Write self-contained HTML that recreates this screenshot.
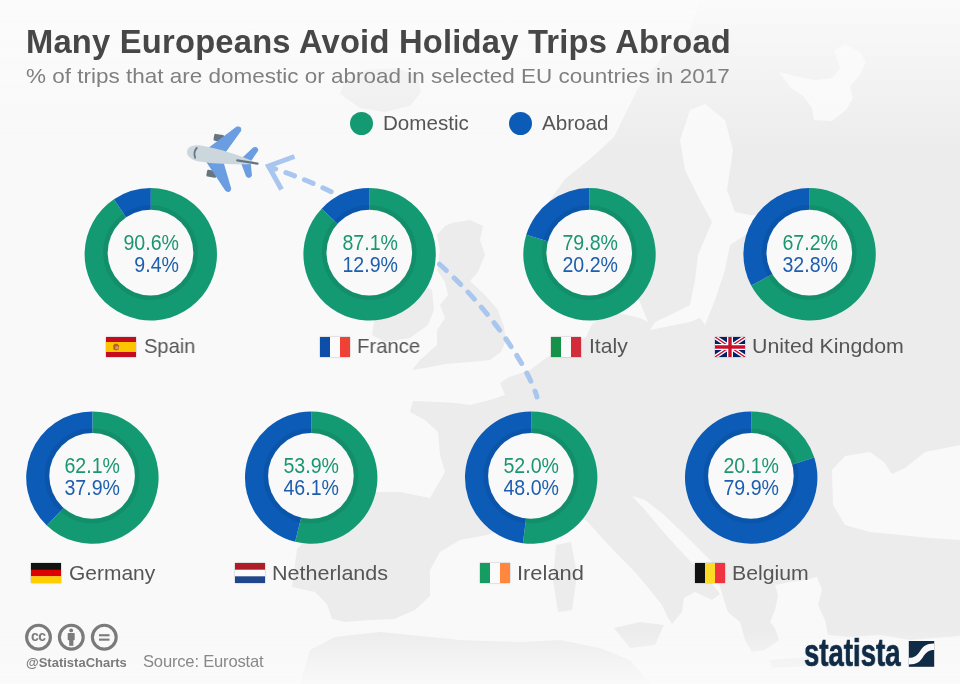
<!DOCTYPE html>
<html><head><meta charset="utf-8"><style>
*{margin:0;padding:0;box-sizing:border-box}
html,body{width:960px;height:684px;overflow:hidden;background:#f9f9f9}
body{position:relative;font-family:"Liberation Sans",sans-serif}
.abs{position:absolute}
body>*{will-change:transform}
#title{position:absolute;left:25.7px;top:22px;font-weight:bold;font-size:32.7px;color:#474747;white-space:nowrap;line-height:40px;letter-spacing:0.23px}
#sub{position:absolute;left:26px;top:62.5px;font-size:21px;color:#808080;white-space:nowrap;line-height:26px;transform-origin:0 0;transform:scaleX(1.0707)}
.leg{position:absolute;top:110.8px;height:23px;font-size:20.6px;color:#555;line-height:23px;white-space:nowrap}
.leg i{display:inline-block;width:23px;height:23px;border-radius:50%;vertical-align:top;margin-right:10px;margin-top:0.7px}
.val{position:absolute;width:100px;height:60px;text-align:center;font-size:21.3px;line-height:22px;padding-top:8px}
.val span{display:inline-block;text-align:right;transform:scaleX(0.92)}
.val b{display:block;font-weight:normal}
.val .g{color:#1c9571}
.val .b{color:#1d5eae}
.fl{position:absolute;width:30px;height:20px;box-shadow:0 0 1.5px rgba(0,0,0,.35)}
.fl svg{display:block}
.ln{position:absolute;white-space:nowrap;font-size:20.8px;line-height:20px;color:#555;transform-origin:0 0}
#handle{position:absolute;left:25.5px;top:654.5px;font-weight:bold;font-size:13px;color:#7b7b7b;line-height:16px;white-space:nowrap}
#src{position:absolute;left:143px;top:652px;font-size:16.6px;letter-spacing:-0.2px;color:#888;line-height:20px;white-space:nowrap}
#stat{position:absolute;left:803.5px;top:630.2px;font-weight:bold;font-size:38.3px;color:#0f2b46;line-height:46px;white-space:nowrap;transform-origin:0 0;transform:scaleX(0.72);letter-spacing:0px;-webkit-text-stroke:0.7px #0f2b46}
</style></head><body>
<svg class="abs" style="left:0;top:0" width="960" height="684" viewBox="0 0 960 684">
<g id="map"><path d="M700 0 L690 30 L664 55 L637 90 L614 137 L590 159 L565 179 L550 200 L545 230 L548 262 L560 290 L585 306 L610 300 L628 290 L640 302 L648 322 L640 318 L615 312 L605 316 L592 324 L586 337 L560 350 L546 358 L530 370 L509 377 L500 383 L505 395 L490 400 L470 405 L455 403 L440 402 L413 401 L410 412 L425 420 L438 432 L440 455 L445 472 L430 498 L400 492 L377 492 L350 505 L320 525 L297 549 L292 587 L315 592 L327 604 L332 619 L345 622 L370 620 L394 619 L415 610 L430 596 L430 570 L440 552 L460 540 L487 535 L505 528 L525 530 L545 520 L560 508 L572 510 L588 522 L602 538 L618 555 L635 572 L650 590 L662 605 L668 618 L672 624 L682 612 L684 598 L695 592 L712 600 L720 594 L708 578 L692 563 L676 546 L660 528 L645 510 L632 496 L645 500 L663 514 L683 533 L700 550 L711 561 L718 580 L724 600 L728 612 L740 622 L745 640 L752 652 L765 650 L779 640 L775 628 L770 622 L775 610 L778 595 L775 585 L790 582 L805 580 L817 577 L822 590 L818 605 L825 620 L828 635 L850 637 L880 635 L910 640 L960 636 L960 0 Z" fill="#ececec" />
<path d="M832 470 L845 456 L870 452 L884 462 L892 474 L905 468 L925 452 L960 445 L960 540 L930 538 L900 535 L870 532 L845 525 L833 505 Z" fill="#f9f9f9" />
<path d="M650 330 L660 328 L690 322 L700 318 L705 325 L715 300 L725 270 L730 245 L750 232 L790 228 L792 218 L750 215 L735 212 L727 190 L733 150 L725 120 L705 104 L690 110 L680 140 L685 170 L700 200 L712 222 L698 255 L695 280 L690 305 L670 315 L655 322 Z" fill="#f9f9f9" />
<path d="M779 72 L795 76 L815 80 L832 78 L840 68 L834 50 L845 44 L860 52 L866 62 L860 75 L850 86 L853 98 L846 110 L832 121 L814 120 L812 108 L804 97 L790 87 Z" fill="#f9f9f9" />
<path d="M452 223 L470 220 L483 226 L480 240 L485 255 L478 272 L470 281 L485 295 L498 310 L504 327 L506 340 L501 352 L490 360 L470 362 L445 364 L425 368 L412 370 L420 360 L437 345 L437 330 L445 318 L440 305 L448 295 L445 282 L437 270 L440 250 L437 235 L445 226 Z" fill="#ececec" />
<path d="M392 284 L415 280 L432 290 L434 310 L428 325 L410 338 L385 342 L372 335 L375 315 L382 298 Z" fill="#ececec" />
<path d="M345 80 L365 70 L395 68 L418 75 L421 92 L410 106 L385 112 L360 108 L340 94 Z" fill="#ececec" />
<path d="M561 512 L569 510 L572 530 L564 536 Z" fill="#ececec" />
<path d="M556 545 L571 542 L577 575 L572 610 L558 612 L553 580 Z" fill="#ececec" />
<path d="M614 628 L640 622 L664 625 L655 645 L630 648 Z" fill="#ececec" />
<path d="M770 660 L810 657 L808 666 L772 668 Z" fill="#ececec" />
<path d="M300 684 L310 650 L335 637 L380 632 L420 636 L460 640 L520 642 L560 640 L600 648 L630 660 L650 684 Z" fill="#ececec" /></g><defs><linearGradient id="topfade" x1="0" y1="0" x2="0" y2="1"><stop offset="0" stop-color="#fbfbfb" stop-opacity="0.95"/><stop offset="1" stop-color="#fbfbfb" stop-opacity="0"/></linearGradient>
<linearGradient id="botfade" x1="0" y1="1" x2="0" y2="0"><stop offset="0" stop-color="#fafafa" stop-opacity="0.9"/><stop offset="1" stop-color="#fafafa" stop-opacity="0"/></linearGradient></defs>
<rect x="0" y="0" width="960" height="150" fill="url(#topfade)"/>
<rect x="0" y="630" width="960" height="54" fill="url(#botfade)"/>
<path d="M294.5 156.5 L268.5 166 L281.5 189.5" stroke="#a9c6ee" stroke-width="5" fill="none" stroke-linejoin="miter"/>
<path d="M269 166.8 C449.8 225.2 528.1 364.4 537 397" stroke="#a9c6ee" stroke-width="5" fill="none" stroke-linecap="round" stroke-dasharray="9.3 10.7" stroke-dashoffset="2.35"/>
<path d="M150.8 254.3L150.80 188.10A66.2 66.2 0 1 1 113.93 199.31Z" fill="#149a73"/>
<path d="M150.8 254.3L113.93 199.31A66.2 66.2 0 0 1 150.80 188.10Z" fill="#0b5bb7"/>
<circle cx="150.5" cy="252.60000000000002" r="45.099999999999994" stroke="#000" stroke-opacity="0.075" stroke-width="4.6" fill="none"/>
<circle cx="150.5" cy="252.60000000000002" r="42.8" fill="#f9f9f9"/>
<path d="M369.6 254.3L369.60 188.10A66.2 66.2 0 1 1 321.63 208.68Z" fill="#149a73"/>
<path d="M369.6 254.3L321.63 208.68A66.2 66.2 0 0 1 369.60 188.10Z" fill="#0b5bb7"/>
<circle cx="369.3" cy="252.60000000000002" r="45.099999999999994" stroke="#000" stroke-opacity="0.075" stroke-width="4.6" fill="none"/>
<circle cx="369.3" cy="252.60000000000002" r="42.8" fill="#f9f9f9"/>
<path d="M589.5 254.3L589.50 188.10A66.2 66.2 0 1 1 526.29 234.64Z" fill="#149a73"/>
<path d="M589.5 254.3L526.29 234.64A66.2 66.2 0 0 1 589.50 188.10Z" fill="#0b5bb7"/>
<circle cx="589.2" cy="252.60000000000002" r="45.099999999999994" stroke="#000" stroke-opacity="0.075" stroke-width="4.6" fill="none"/>
<circle cx="589.2" cy="252.60000000000002" r="42.8" fill="#f9f9f9"/>
<path d="M809.6 254.3L809.60 188.10A66.2 66.2 0 1 1 751.19 285.46Z" fill="#149a73"/>
<path d="M809.6 254.3L751.19 285.46A66.2 66.2 0 0 1 809.60 188.10Z" fill="#0b5bb7"/>
<circle cx="809.3000000000001" cy="252.60000000000002" r="45.099999999999994" stroke="#000" stroke-opacity="0.075" stroke-width="4.6" fill="none"/>
<circle cx="809.3000000000001" cy="252.60000000000002" r="42.8" fill="#f9f9f9"/>
<path d="M92.4 477.6L92.40 411.40A66.2 66.2 0 1 1 46.78 525.57Z" fill="#149a73"/>
<path d="M92.4 477.6L46.78 525.57A66.2 66.2 0 0 1 92.40 411.40Z" fill="#0b5bb7"/>
<circle cx="92.10000000000001" cy="475.90000000000003" r="45.099999999999994" stroke="#000" stroke-opacity="0.075" stroke-width="4.6" fill="none"/>
<circle cx="92.10000000000001" cy="475.90000000000003" r="42.8" fill="#f9f9f9"/>
<path d="M311.2 477.6L311.20 411.40A66.2 66.2 0 1 1 295.14 541.82Z" fill="#149a73"/>
<path d="M311.2 477.6L295.14 541.82A66.2 66.2 0 0 1 311.20 411.40Z" fill="#0b5bb7"/>
<circle cx="310.9" cy="475.90000000000003" r="45.099999999999994" stroke="#000" stroke-opacity="0.075" stroke-width="4.6" fill="none"/>
<circle cx="310.9" cy="475.90000000000003" r="42.8" fill="#f9f9f9"/>
<path d="M531.2 477.6L531.20 411.40A66.2 66.2 0 1 1 522.90 543.28Z" fill="#149a73"/>
<path d="M531.2 477.6L522.90 543.28A66.2 66.2 0 0 1 531.20 411.40Z" fill="#0b5bb7"/>
<circle cx="530.9000000000001" cy="475.90000000000003" r="45.099999999999994" stroke="#000" stroke-opacity="0.075" stroke-width="4.6" fill="none"/>
<circle cx="530.9000000000001" cy="475.90000000000003" r="42.8" fill="#f9f9f9"/>
<path d="M751.2 477.6L751.20 411.40A66.2 66.2 0 0 1 814.29 457.54Z" fill="#149a73"/>
<path d="M751.2 477.6L814.29 457.54A66.2 66.2 0 1 1 751.20 411.40Z" fill="#0b5bb7"/>
<circle cx="750.9000000000001" cy="475.90000000000003" r="45.099999999999994" stroke="#000" stroke-opacity="0.075" stroke-width="4.6" fill="none"/>
<circle cx="750.9000000000001" cy="475.90000000000003" r="42.8" fill="#f9f9f9"/>
<g transform="translate(187.1 151.3) rotate(9.7)">
<rect x="24" y="-22" width="10" height="7" rx="1.5" fill="#66757f"/>
<rect x="23" y="14.5" width="10" height="7" rx="1.5" fill="#66757f"/>
<path d="M20.5 -6 L37.5 -6 L49 -29.5 Q49 -33.5 45 -32 Z" fill="#6b9de1" stroke="#6b9de1" stroke-width="1.6" stroke-linejoin="round"/>
<path d="M20.5 6 L37.5 6 L49 29.5 Q49 33.5 45 32 Z" fill="#6b9de1" stroke="#6b9de1" stroke-width="1.6" stroke-linejoin="round"/>
<path d="M56 -2 L64 -2 L69 -13 Q68 -16 65 -14 Z" fill="#6b9de1" stroke="#6b9de1" stroke-width="2" stroke-linejoin="round"/>
<path d="M56 2 L64 2 L67 13 Q66 16 63 14 Z" fill="#6b9de1" stroke="#6b9de1" stroke-width="2" stroke-linejoin="round"/>
<path d="M0 0 C0 -5 6 -8 14 -8 C30 -8 55 -5 71 0 C60 4 30 8 14 8 C6 8 0 5 0 0 Z" fill="#ccd6dd"/>
<path d="M9 -5 Q6 0 9 5" stroke="#66757f" stroke-width="1.8" fill="none" stroke-linecap="round"/>
<path d="M51 0.5 L71.5 0.3" stroke="#66757f" stroke-width="2.2" stroke-linecap="round"/>
</g>
<g fill="none" stroke="#7b7b7b" stroke-width="3.1">
<circle cx="38.5" cy="637.2" r="11.9"/><circle cx="71.3" cy="637.2" r="11.9"/><circle cx="104.3" cy="637.2" r="11.9"/></g>
<g fill="#7b7b7b">
<circle cx="71.2" cy="630.4" r="1.9"/><rect x="67.7" y="633" width="7" height="7.2" rx="0.8"/><rect x="69.2" y="639" width="4.2" height="6.8"/>
<rect x="99" y="634.2" width="10.5" height="2.1"/><rect x="99" y="638.6" width="10.5" height="2.1"/>
</g>
<text x="38.3" y="641.2" font-family="Liberation Sans" font-weight="bold" font-size="14" fill="#7b7b7b" text-anchor="middle" letter-spacing="-0.6">cc</text>
<g transform="translate(908.8 641)"><rect width="25.4" height="25.8" fill="#0f2b46"/>
<path d="M0 16.8 C6 16.8 8 14.5 11 10.5 C14 5.5 17 2.4 25.4 2.4 L25.4 9 C19.5 9 17.5 11.5 14.5 15.5 C11 21 8.5 23.4 0 23.4 Z" fill="#fafafa"/></g>
</svg>
<div id="title">Many Europeans Avoid Holiday Trips Abroad</div>
<div id="sub">% of trips that are domestic or abroad in selected EU countries in 2017</div>
<div class="leg" style="left:350px"><i style="background:#149a73"></i>Domestic</div>
<div class="leg" style="left:509px"><i style="background:#0b5bb7"></i>Abroad</div>
<div class="val" style="left:100.80000000000001px;top:223.60000000000002px"><span><b class="g">90.6%</b><b class="b">9.4%</b></span></div>
<span class="fl" style="left:106.3px;top:336.6px"><svg width="30" height="20" viewBox="0 0 30 20"><rect width="30" height="20" fill="#c60b1e"/><rect y="5" width="30" height="10" fill="#ffc400"/><path d="M7 8.2 Q10 6.6 13.2 8.2 L12.8 12.6 Q10 14.2 7.4 12.6 Z" fill="#a8471f" opacity=".8"/><rect x="9.4" y="9.2" width="3" height="3" fill="#e8a08a" opacity=".8"/><rect x="8" y="6.8" width="4" height="1.3" fill="#a8471f" opacity=".7"/></svg></span>
<div class="ln" style="left:144.03px;top:336.0px;transform:scaleX(0.967)">Spain</div>
<div class="val" style="left:319.6px;top:223.60000000000002px"><span><b class="g">87.1%</b><b class="b">12.9%</b></span></div>
<span class="fl" style="left:319.6px;top:336.6px"><svg width="30" height="20" viewBox="0 0 30 20"><rect width="10" height="20" fill="#0d4fa8"/><rect x="10" width="10" height="20" fill="#fafafa"/><rect x="20" width="10" height="20" fill="#ef4135"/></svg></span>
<div class="ln" style="left:357.05px;top:336.0px;transform:scaleX(0.974)">France</div>
<div class="val" style="left:539.5px;top:223.60000000000002px"><span><b class="g">79.8%</b><b class="b">20.2%</b></span></div>
<span class="fl" style="left:551px;top:336.6px"><svg width="30" height="20" viewBox="0 0 30 20"><rect width="10" height="20" fill="#159248"/><rect x="10" width="10" height="20" fill="#fafafa"/><rect x="20" width="10" height="20" fill="#d02c3a"/></svg></span>
<div class="ln" style="left:588.97px;top:336.0px;transform:scaleX(1.014)">Italy</div>
<div class="val" style="left:759.6px;top:223.60000000000002px"><span><b class="g">67.2%</b><b class="b">32.8%</b></span></div>
<span class="fl" style="left:715px;top:336.6px"><svg width="30" height="20" viewBox="0 0 30 20"><rect width="30" height="20" fill="#012169"/><path d="M0 0L30 20M30 0L0 20" stroke="#fff" stroke-width="4"/><path d="M0 0L30 20M30 0L0 20" stroke="#c8102e" stroke-width="1.4"/><path d="M15 0V20M0 10H30" stroke="#fff" stroke-width="6"/><path d="M15 0V20M0 10H30" stroke="#c8102e" stroke-width="3.4"/></svg></span>
<div class="ln" style="left:752.15px;top:336.0px;transform:scaleX(1.026)">United Kingdom</div>
<div class="val" style="left:42.400000000000006px;top:446.90000000000003px"><span><b class="g">62.1%</b><b class="b">37.9%</b></span></div>
<span class="fl" style="left:30.8px;top:562.6px"><svg width="30" height="20" viewBox="0 0 30 20"><rect width="30" height="7" fill="#111"/><rect y="6.7" width="30" height="6.7" fill="#dd0000"/><rect y="13.3" width="30" height="6.7" fill="#ffce00"/></svg></span>
<div class="ln" style="left:68.69px;top:563.0px;transform:scaleX(1.008)">Germany</div>
<div class="val" style="left:261.2px;top:446.90000000000003px"><span><b class="g">53.9%</b><b class="b">46.1%</b></span></div>
<span class="fl" style="left:234.8px;top:562.6px"><svg width="30" height="20" viewBox="0 0 30 20"><rect width="30" height="7" fill="#ae1c28"/><rect y="6.7" width="30" height="6.7" fill="#fafafa"/><rect y="13.3" width="30" height="6.7" fill="#21468b"/></svg></span>
<div class="ln" style="left:272.13px;top:563.0px;transform:scaleX(1.035)">Netherlands</div>
<div class="val" style="left:481.20000000000005px;top:446.90000000000003px"><span><b class="g">52.0%</b><b class="b">48.0%</b></span></div>
<span class="fl" style="left:479.9px;top:562.6px"><svg width="30" height="20" viewBox="0 0 30 20"><rect width="10" height="20" fill="#169b62"/><rect x="10" width="10" height="20" fill="#fafafa"/><rect x="20" width="10" height="20" fill="#ff883e"/></svg></span>
<div class="ln" style="left:516.90px;top:563.0px;transform:scaleX(1.052)">Ireland</div>
<div class="val" style="left:701.2px;top:446.90000000000003px"><span><b class="g">20.1%</b><b class="b">79.9%</b></span></div>
<span class="fl" style="left:694.6px;top:562.6px"><svg width="30" height="20" viewBox="0 0 30 20"><rect width="10" height="20" fill="#111"/><rect x="10" width="10" height="20" fill="#fdda24"/><rect x="20" width="10" height="20" fill="#ef3340"/></svg></span>
<div class="ln" style="left:731.96px;top:563.0px;transform:scaleX(1.021)">Belgium</div>
<div id="handle">@StatistaCharts</div>
<div id="src">Source: Eurostat</div>
<div id="stat">statista</div>
</body></html>
